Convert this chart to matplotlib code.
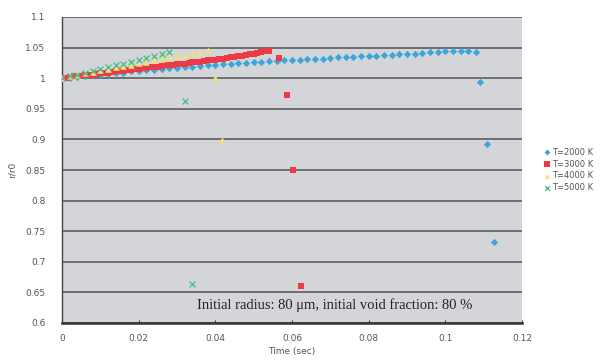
import matplotlib
matplotlib.use("Agg")
import matplotlib.pyplot as plt

# T=2000 K
t2000 = [0.000, 0.002, 0.004, 0.006, 0.008, 0.010, 0.012, 0.014, 0.016, 0.018,
         0.020, 0.022, 0.024, 0.026, 0.028, 0.030, 0.032, 0.034, 0.036, 0.038,
         0.040, 0.042, 0.044, 0.046, 0.048, 0.050, 0.052, 0.054, 0.056, 0.058,
         0.060, 0.062, 0.064, 0.066, 0.068, 0.070, 0.072, 0.074, 0.076, 0.078,
         0.080, 0.082, 0.084, 0.086, 0.088, 0.090, 0.092, 0.094, 0.096, 0.098,
         0.100, 0.102, 0.104, 0.106, 0.108, 0.109, 0.111, 0.1128]
r2000 = [1.000, 1.001, 1.002, 1.004, 1.005, 1.006, 1.007, 1.008, 1.009, 1.011,
         1.012, 1.013, 1.014, 1.015, 1.016, 1.017, 1.018, 1.019, 1.020, 1.021,
         1.022, 1.023, 1.024, 1.025, 1.025, 1.026, 1.027, 1.028, 1.028, 1.029,
         1.030, 1.030, 1.031, 1.032, 1.032, 1.033, 1.034, 1.034, 1.035, 1.036,
         1.036, 1.037, 1.038, 1.038, 1.039, 1.040, 1.040, 1.041, 1.042, 1.043,
         1.044, 1.045, 1.045, 1.045, 1.043, 0.993, 0.893, 0.733]

# T=3000 K
t3000 = [0.000, 0.001, 0.002, 0.003, 0.004, 0.005, 0.006, 0.007, 0.008, 0.009,
         0.010, 0.011, 0.012, 0.013, 0.014, 0.015, 0.016, 0.017, 0.018, 0.019,
         0.020, 0.021, 0.022, 0.023, 0.024, 0.025, 0.026, 0.027, 0.028, 0.029,
         0.030, 0.031, 0.032, 0.033, 0.034, 0.035, 0.036, 0.037, 0.038, 0.039,
         0.040, 0.041, 0.042, 0.043, 0.044, 0.045, 0.046, 0.047, 0.048, 0.049,
         0.050, 0.051, 0.052, 0.053, 0.054, 0.0566, 0.0587, 0.0602, 0.0624]
r3000 = [1.000, 1.001, 1.002, 1.003, 1.003, 1.004, 1.005, 1.006, 1.006, 1.007,
         1.008, 1.009, 1.009, 1.010, 1.011, 1.012, 1.012, 1.013, 1.014, 1.015,
         1.015, 1.016, 1.017, 1.018, 1.018, 1.019, 1.020, 1.021, 1.021, 1.022,
         1.023, 1.024, 1.024, 1.025, 1.026, 1.027, 1.027, 1.028, 1.029, 1.030,
         1.030, 1.031, 1.032, 1.033, 1.034, 1.035, 1.036, 1.037, 1.038, 1.039,
         1.040, 1.041, 1.042, 1.044, 1.045, 1.033, 0.973, 0.850, 0.660]

# T=4000 K
t4000 = [0.000, 0.002, 0.004, 0.006, 0.008, 0.010, 0.012, 0.014, 0.016, 0.018,
         0.020, 0.022, 0.024, 0.026, 0.028, 0.030, 0.032, 0.034, 0.036, 0.038,
         0.040, 0.0418]
r4000 = [1.000, 1.003, 1.005, 1.008, 1.010, 1.013, 1.015, 1.018, 1.020, 1.022,
         1.025, 1.027, 1.029, 1.031, 1.034, 1.036, 1.038, 1.041, 1.043, 1.046,
         1.000, 0.899]

# T=5000 K
t5000 = [0.000, 0.002, 0.004, 0.006, 0.008, 0.010, 0.012, 0.014, 0.016, 0.018,
         0.020, 0.022, 0.024, 0.026, 0.028, 0.032, 0.034]
r5000 = [1.000, 1.003, 1.006, 1.009, 1.012, 1.015, 1.018, 1.021, 1.024, 1.027,
         1.030, 1.033, 1.036, 1.039, 1.043, 0.962, 0.663]

labels = ["T=2000 K", "T=3000 K", "T=4000 K", "T=5000 K"]
xticks = [0, 0.02, 0.04, 0.06, 0.08, 0.1, 0.12]
xticklabels = ["0", "0.02", "0.04", "0.06", "0.08", "0.1", "0.12"]
yticks = [0.6, 0.65, 0.7, 0.75, 0.8, 0.85, 0.9, 0.95, 1.0, 1.05, 1.1]
yticklabels = ["0.6", "0.65", "0.7", "0.75", "0.8", "0.85", "0.9", "0.95", "1", "1.05", "1.1"]

fig = plt.figure(figsize=(6.1, 3.62), dpi=100)
ax = fig.add_axes([62/610, 1 - 323/362, (522 - 62)/610, (323 - 17)/362])
ax.set_facecolor("#d3d5d8")

ax.scatter(t2000, r2000, marker="D", s=14, color="#3ca6dc", linewidths=0, label=labels[0], zorder=3)
ax.scatter(t3000, r3000, marker="s", s=24, color="#ee3a44", linewidths=0, label=labels[1], zorder=3)
ax.scatter(t4000, r4000, marker="^", s=22, color="#efe27a", linewidths=0, label=labels[2], zorder=4)
ax.scatter(t5000, r5000, marker="x", s=18, color="#4cc08a", linewidths=1.0, label=labels[3], zorder=5)

ax.set_xlim(0, 0.12)
ax.set_ylim(0.6, 1.1)
ax.set_xticks(xticks)
ax.set_xticklabels(xticklabels)
ax.set_yticks(yticks)
ax.set_yticklabels(yticklabels)
ax.yaxis.grid(True, color="#6e6e72", linewidth=1.4)
ax.set_axisbelow(True)
ax.tick_params(axis="both", labelsize=6.5, labelcolor="#555555", length=2, direction="in", color="#333333")
ax.tick_params(axis="y", length=0, pad=12)
ax.tick_params(axis="x", pad=8)
for s in ["top", "right"]:
    ax.spines[s].set_visible(False)
ax.spines["left"].set_color("#444444")
ax.spines["left"].set_linewidth(1.0)
ax.spines["bottom"].set_color("#333333")
ax.spines["bottom"].set_linewidth(1.8)

ax.set_xlabel("Time (sec)", fontsize=6.5, color="#555555", labelpad=3)
ax.set_ylabel("r/r0", fontsize=6.5, color="#555555", labelpad=6)

ax.text(0.0712, 0.629, "Initial radius: 80 μm, initial void fraction: 80 %",
        fontsize=10.5, family="Liberation Serif", color="#222222", ha="center", va="center", zorder=6)

leg = fig.legend(loc="center left", bbox_to_anchor=(535/610, 1 - 170/362), frameon=False,
                 fontsize=6, labelcolor="#555555", handletextpad=0.2, labelspacing=0.35,
                 markerscale=0.8, handlelength=1.0)

fig.savefig("out.png", dpi=100)
